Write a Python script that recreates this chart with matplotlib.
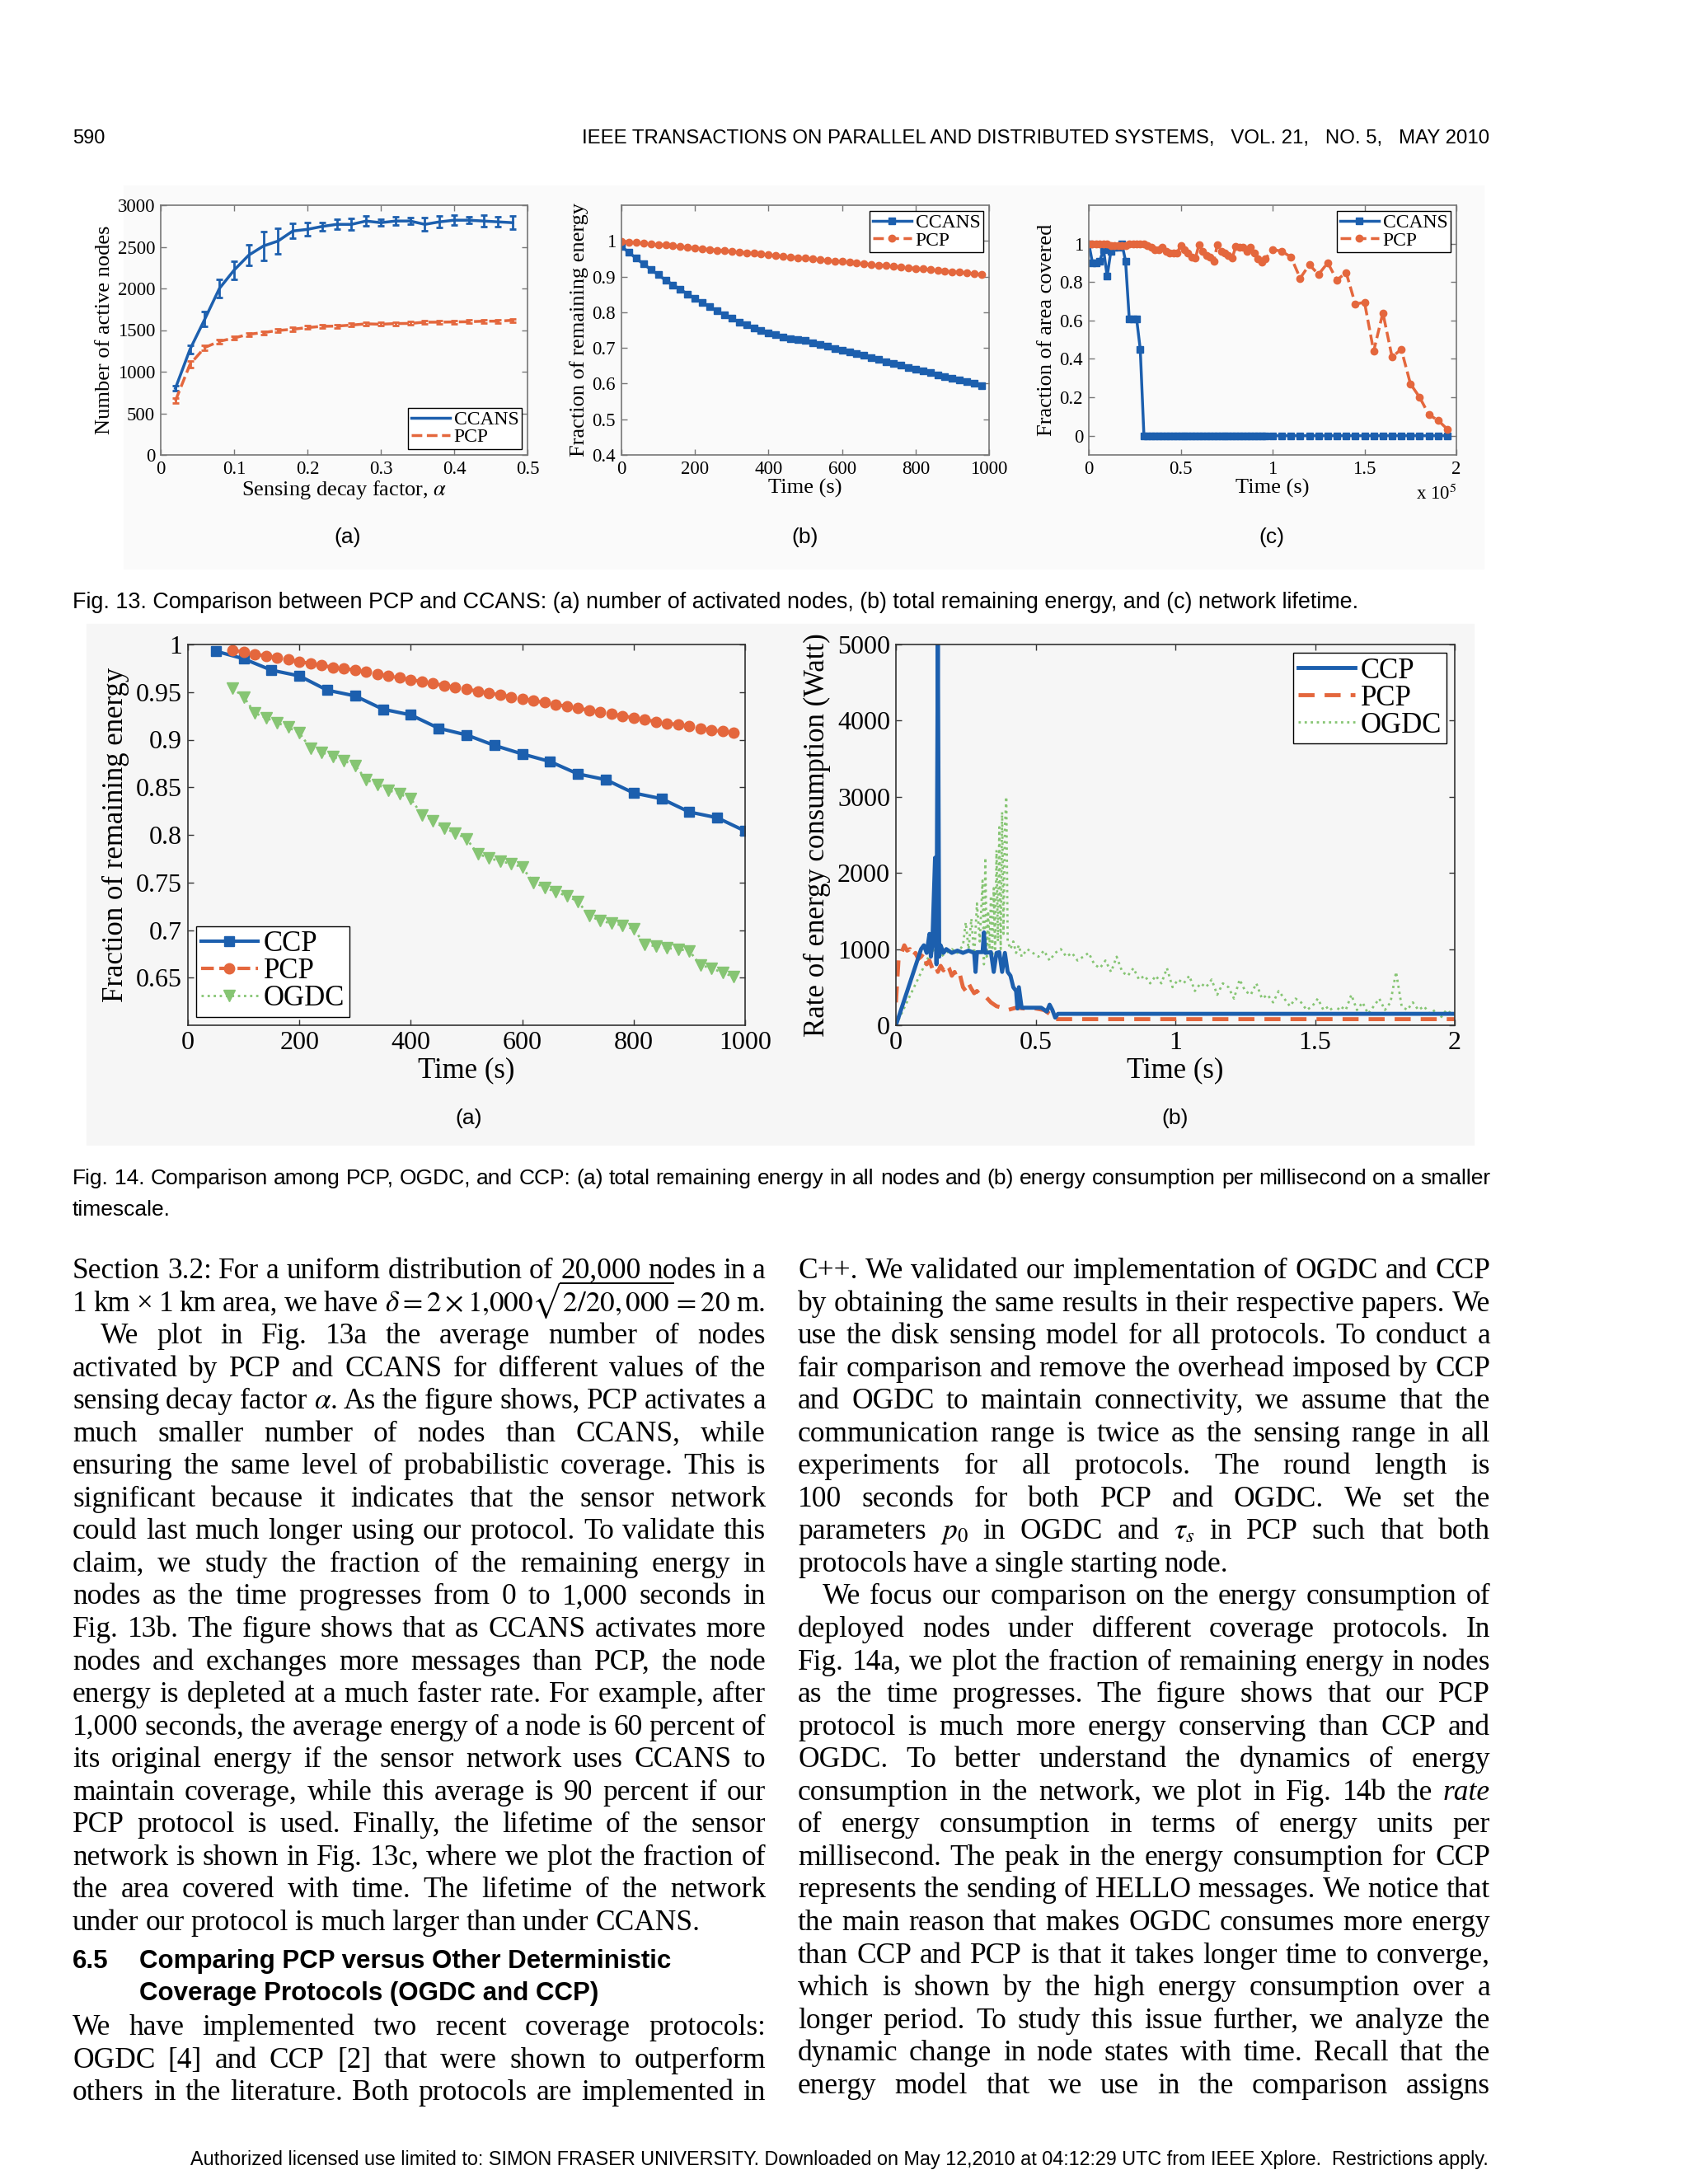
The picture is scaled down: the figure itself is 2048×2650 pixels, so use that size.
import re
import numpy as np
import matplotlib
matplotlib.use('Agg')
import matplotlib.pyplot as plt
from matplotlib.lines import Line2D
from matplotlib.patches import Rectangle
from matplotlib.ticker import FuncFormatter

# ---------------- data ----------------
# Fig. 13a : active nodes vs sensing decay factor
alpha = [0.02, 0.04, 0.06, 0.08, 0.10, 0.12, 0.14, 0.16, 0.18, 0.20, 0.22, 0.24,
         0.26, 0.28, 0.30, 0.32, 0.34, 0.36, 0.38, 0.40, 0.42, 0.44, 0.46, 0.48]
ccans_nodes = [800, 1270, 1630, 2000, 2220, 2400, 2510, 2570, 2690, 2710, 2745, 2770,
               2770, 2810, 2790, 2810, 2810, 2770, 2800, 2820, 2820, 2810, 2800, 2790]
ccans_err = [30, 50, 90, 110, 110, 120, 170, 150, 90, 80, 50, 60,
             70, 60, 40, 50, 40, 80, 70, 60, 40, 70, 60, 80]
pcp_nodes = [650, 1090, 1290, 1365, 1405, 1450, 1470, 1495, 1510, 1530, 1545, 1548,
             1560, 1575, 1570, 1578, 1580, 1595, 1595, 1598, 1600, 1607, 1607, 1618]
pcp_err = [30, 40, 30, 25, 20, 20, 20, 20, 20, 20, 20, 20,
           20, 20, 20, 20, 20, 20, 20, 20, 20, 20, 20, 20]

# Fig. 13b : remaining energy, one sample every 20 s
t13b = np.arange(0, 1000, 20)
ccans_energy = [0.984, 0.968, 0.951, 0.935, 0.920, 0.905, 0.890, 0.877, 0.864, 0.851,
                0.839, 0.827, 0.815, 0.804, 0.793, 0.783, 0.773, 0.764, 0.756, 0.749,
                0.743, 0.737, 0.731, 0.726, 0.724, 0.720, 0.714, 0.709, 0.704, 0.699,
                0.694, 0.689, 0.684, 0.679, 0.673, 0.667, 0.662, 0.656, 0.651, 0.646,
                0.640, 0.635, 0.630, 0.625, 0.620, 0.615, 0.611, 0.606, 0.601, 0.595]
pcp_energy = [0.999, 0.997, 0.995, 0.993, 0.991, 0.989, 0.988, 0.986, 0.984, 0.982,
              0.980, 0.978, 0.976, 0.974, 0.972, 0.970, 0.968, 0.967, 0.965, 0.963,
              0.961, 0.959, 0.957, 0.955, 0.953, 0.951, 0.949, 0.947, 0.945, 0.944,
              0.942, 0.940, 0.938, 0.936, 0.934, 0.932, 0.931, 0.929, 0.927, 0.925,
              0.923, 0.921, 0.919, 0.917, 0.915, 0.914, 0.912, 0.910, 0.908, 0.906]

# Fig. 13c : area covered, time in units of 1e5 s
t13c = list(np.round(np.arange(0, 0.97, 0.02), 2)) + list(np.round(np.arange(1.0, 1.96, 0.05), 2))
ccans_cov = [1.0, 0.90, 0.90, 0.91, 0.97, 0.83, 0.96, 0.98, 0.98, 1.0, 0.91, 0.61, 0.61, 0.61, 0.45,
             0, 0, 0, 0, 0, 0, 0, 0, 0, 0, 0, 0, 0, 0, 0, 0, 0,
             0, 0, 0, 0, 0, 0, 0, 0, 0, 0, 0, 0, 0, 0, 0, 0, 0,
             0, 0, 0, 0, 0, 0, 0, 0, 0, 0, 0, 0, 0, 0, 0, 0, 0, 0, 0, 0]
pcp_cov = [1.0, 1.0, 1.0, 1.0, 1.0, 1.0, 0.99, 0.99, 0.99, 0.99, 0.99, 1.0, 1.0, 1.0, 1.0,
           1.0, 0.99, 0.98, 0.97, 0.97, 0.98, 0.96, 0.95, 0.95, 0.95,
           0.99, 0.97, 0.95, 0.93, 0.925, 0.995, 0.96, 0.94, 0.93, 0.91,
           0.995, 0.96, 0.95, 0.94, 0.925, 0.985, 0.98, 0.98, 0.96, 0.98,
           0.95, 0.92, 0.905, 0.92,
           0.97, 0.96, 0.93, 0.82, 0.89, 0.84, 0.90, 0.81, 0.85, 0.685,
           0.695, 0.44, 0.64, 0.41, 0.45, 0.27, 0.20, 0.11, 0.08, 0.035]

# Fig. 14a : remaining energy of CCP / PCP / OGDC
t14_ccp = np.arange(50, 1001, 50)
ccp_energy = [0.993, 0.985, 0.973, 0.967, 0.952, 0.946, 0.932, 0.926, 0.912, 0.905,
              0.894, 0.885, 0.877, 0.864, 0.858, 0.844, 0.838, 0.824, 0.818, 0.804]
t14 = np.arange(80, 1000, 20)
pcp_energy14 = [0.994, 0.992, 0.990, 0.988, 0.986, 0.984, 0.982, 0.980, 0.978, 0.976,
                0.975, 0.973, 0.971, 0.969, 0.967, 0.965, 0.963, 0.961, 0.959, 0.957,
                0.955, 0.953, 0.951, 0.949, 0.947, 0.945, 0.943, 0.941, 0.939, 0.937,
                0.935, 0.933, 0.931, 0.929, 0.927, 0.925, 0.923, 0.921, 0.919, 0.917,
                0.916, 0.914, 0.912, 0.910, 0.909, 0.907]
ogdc_energy = [0.954, 0.945, 0.928, 0.923, 0.918, 0.913, 0.907, 0.891, 0.887, 0.882,
               0.878, 0.873, 0.858, 0.853, 0.847, 0.843, 0.838, 0.821, 0.815, 0.807,
               0.802, 0.796, 0.780, 0.776, 0.772, 0.770, 0.766, 0.750, 0.745, 0.740,
               0.736, 0.730, 0.715, 0.710, 0.707, 0.705, 0.701, 0.685, 0.683, 0.681,
               0.680, 0.678, 0.663, 0.660, 0.655, 0.651]

# Fig. 14b : rate of energy consumption
ccp_rate_t = [0, 0.09, 0.10, 0.11, 0.12, 0.125, 0.13, 0.14, 0.145, 0.15,
              0.155, 0.16, 0.17, 0.18, 0.20, 0.22, 0.24, 0.26, 0.28, 0.285,
              0.29, 0.31, 0.315, 0.32, 0.34, 0.35, 0.36, 0.37, 0.38, 0.39,
              0.40, 0.41, 0.42, 0.43, 0.435, 0.44, 0.45, 0.50, 0.52, 0.54,
              0.55, 0.56, 0.57, 0.58, 2.0]
ccp_rate = [0, 1000, 1050, 950, 1200, 900, 1050, 2200, 800, 5200,
            900, 1050, 950, 1000, 950, 980, 950, 980, 950, 700,
            960, 960, 1220, 950, 960, 700, 950, 960, 700, 950,
            700, 650, 500, 450, 220, 500, 230, 230, 230, 180,
            270, 200, 100, 150, 150]
pcp_rate_t = [0, 0.005, 0.01, 0.02, 0.03, 0.04, 0.05, 0.06, 0.07, 0.08,
              0.09, 0.10, 0.11, 0.12, 0.13, 0.14, 0.15, 0.16, 0.17, 0.18,
              0.19, 0.20, 0.21, 0.22, 0.23, 0.24, 0.25, 0.26, 0.27, 0.28,
              0.29, 0.30, 0.32, 0.34, 0.36, 0.38, 0.40, 0.43, 0.46, 0.50,
              0.53, 0.55, 0.56, 0.58, 2.0]
pcp_rate = [300, 600, 900, 950, 1050, 980, 1000, 900, 950, 870,
            900, 950, 800, 850, 750, 800, 700, 780, 720, 800,
            750, 650, 700, 600, 650, 500, 450, 550, 480, 420,
            450, 400, 380, 300, 250, 230, 200, 230, 220, 220,
            200, 150, 80, 80, 80]
ogdc_rate_t = [0, 0.13, 0.16, 0.18, 0.20, 0.22, 0.24, 0.25, 0.26, 0.27,
               0.28, 0.29, 0.30, 0.31, 0.315, 0.32, 0.325, 0.33, 0.335, 0.34,
               0.345, 0.35, 0.355, 0.36, 0.365, 0.37, 0.375, 0.38, 0.385, 0.39,
               0.395, 0.40, 0.41, 0.42, 0.43, 0.44, 0.45] + list(np.round(np.arange(0.47, 2.0, 0.02), 2))
ogdc_rate = [0, 1000, 900, 950, 1000, 950, 1050, 1350, 1000, 1400,
             900, 1600, 1100, 1900, 800, 2200, 900, 1500, 1000, 1700,
             900, 1800, 1000, 2300, 1100, 2600, 1000, 2800, 1200, 2600,
             3000, 1100, 1000, 1100, 950, 1050, 900,
             1000, 950, 900, 980, 850, 950, 1000, 900, 950, 850,
             900, 950, 800, 750, 850, 700, 900, 700, 650, 750,
             600, 650, 550, 650, 550, 750, 500, 600, 550, 650,
             450, 550, 500, 600, 400, 550, 500, 350, 600, 450,
             400, 550, 350, 400, 300, 450, 350, 250, 350, 300,
             200, 250, 350, 200, 250, 150, 250, 200, 400, 200,
             300, 150, 250, 350, 200, 300, 700, 250, 200, 300,
             200, 250, 150, 200, 100, 200, 150]

# ---------------- page text ----------------
header_left = "590"
header_right = "IEEE TRANSACTIONS ON PARALLEL AND DISTRIBUTED SYSTEMS,   VOL. 21,   NO. 5,   MAY 2010"
cap13 = ("Fig. 13. Comparison between PCP and CCANS: (a) number of activated nodes, "
         "(b) total remaining energy, and (c) network lifetime.")
cap14 = ["Fig. 14. Comparison among PCP, OGDC, and CCP: (a) total remaining energy in all nodes "
         "and (b) energy consumption per millisecond on a smaller", "timescale."]
footer = ("Authorized licensed use limited to: SIMON FRASER UNIVERSITY. Downloaded on May 12,2010 "
          "at 04:12:29 UTC from IEEE Xplore.  Restrictions apply.")

left_col = [
    "Section 3.2: For a uniform distribution of 20,000 nodes in a",
    "1 km \u00d7 1 km area, we have $\\delta = 2 \\times 1{,}000\\sqrt{2/20,000} = 20$ m.",
    "We plot in Fig. 13a the average number of nodes",
    "activated by PCP and CCANS for different values of the",
    "sensing decay factor $\\alpha$. As the figure shows, PCP activates a",
    "much smaller number of nodes than CCANS, while",
    "ensuring the same level of probabilistic coverage. This is",
    "significant because it indicates that the sensor network",
    "could last much longer using our protocol. To validate this",
    "claim, we study the fraction of the remaining energy in",
    "nodes as the time progresses from 0 to 1,000 seconds in",
    "Fig. 13b. The figure shows that as CCANS activates more",
    "nodes and exchanges more messages than PCP, the node",
    "energy is depleted at a much faster rate. For example, after",
    "1,000 seconds, the average energy of a node is 60 percent of",
    "its original energy if the sensor network uses CCANS to",
    "maintain coverage, while this average is 90 percent if our",
    "PCP protocol is used. Finally, the lifetime of the sensor",
    "network is shown in Fig. 13c, where we plot the fraction of",
    "the area covered with time. The lifetime of the network",
    "under our protocol is much larger than under CCANS.",
]
left_tail = [
    "We have implemented two recent coverage protocols:",
    "OGDC [4] and CCP [2] that were shown to outperform",
    "others in the literature. Both protocols are implemented in",
]
right_col = [
    "C++. We validated our implementation of OGDC and CCP",
    "by obtaining the same results in their respective papers. We",
    "use the disk sensing model for all protocols. To conduct a",
    "fair comparison and remove the overhead imposed by CCP",
    "and OGDC to maintain connectivity, we assume that the",
    "communication range is twice as the sensing range in all",
    "experiments for all protocols. The round length is",
    "100 seconds for both PCP and OGDC. We set the",
    "parameters $p_0$ in OGDC and $\\tau_s$ in PCP such that both",
    "protocols have a single starting node.",
    "We focus our comparison on the energy consumption of",
    "deployed nodes under different coverage protocols. In",
    "Fig. 14a, we plot the fraction of remaining energy in nodes",
    "as the time progresses. The figure shows that our PCP",
    "protocol is much more energy conserving than CCP and",
    "OGDC. To better understand the dynamics of energy",
    "consumption in the network, we plot in Fig. 14b the /rate/",
    "of energy consumption in terms of energy units per",
    "millisecond. The peak in the energy consumption for CCP",
    "represents the sending of HELLO messages. We notice that",
    "the main reason that makes OGDC consumes more energy",
    "than CCP and PCP is that it takes longer time to converge,",
    "which is shown by the high energy consumption over a",
    "longer period. To study this issue further, we analyze the",
    "dynamic change in node states with time. Recall that the",
    "energy model that we use in the comparison assigns",
]

# ---------------- page setup ----------------
W, H = 2048, 2650
SERIF = ['Liberation Serif', 'DejaVu Serif']
SANS = ['Liberation Sans', 'DejaVu Sans']
plt.rcParams['font.family'] = SERIF
plt.rcParams['mathtext.fontset'] = 'stix'

BLUE = '#1c5fae'
ORANGE = '#e4673d'
GREEN = '#86c573'

fig = plt.figure(figsize=(W / 100, H / 100), dpi=100, facecolor='white')
renderer = fig.canvas.get_renderer()


def fx(px):
    return px / W


def fy(py):
    return 1 - py / H


def axes_px(x0, y0, x1, y1):
    return fig.add_axes([fx(x0), fy(y1), (x1 - x0) / W, (y1 - y0) / H])


def width_of(t):
    return t.get_window_extent(renderer).width


def matlab_style(ax, fs, edge):
    ax.set_facecolor('none')
    ax.tick_params(direction='in', top=True, right=True, labelsize=fs,
                   length=5, width=1, color=edge, pad=5)
    for sp in ax.spines.values():
        sp.set_color(edge)
        sp.set_linewidth(1.2)
    fmt = FuncFormatter(lambda v, p: '%g' % round(v, 4))
    ax.xaxis.set_major_formatter(fmt)
    ax.yaxis.set_major_formatter(fmt)


def box_legend(ax, handles, labels, loc, fs):
    leg = ax.legend(handles, labels, loc=loc, fontsize=fs, fancybox=False,
                    edgecolor='black', framealpha=1, borderpad=0.15,
                    labelspacing=0.0, handlelength=2.0, handletextpad=0.2,
                    borderaxespad=0.3)
    leg.get_frame().set_linewidth(1.0)


def text_line(x0, x1, y, line, size, family=SERIF, justify=True, weight='normal'):
    tokens = re.findall(r'\$[^$]*\$\S*|\S+', line)
    items = []
    for tok in tokens:
        style = 'normal'
        if tok.startswith('/') and tok.endswith('/'):
            tok, style = tok[1:-1], 'italic'
        items.append(fig.text(0, fy(y), tok, fontsize=size, family=family,
                              style=style, weight=weight, va='baseline'))
    ws = [width_of(t) for t in items]
    space = size * 100 / 72 * 0.22
    natural = sum(ws) + space * (len(items) - 1)
    if natural > x1 - x0:
        # squeeze the whole line a little when it would overflow the column
        k = (x1 - x0) / natural
        for t in items:
            t.set_fontsize(size * k)
        ws = [width_of(t) for t in items]
        space *= k
    if justify and len(items) > 1:
        gap = (x1 - x0 - sum(ws)) / (len(items) - 1)
    else:
        gap = space
    x = x0
    for t, w in zip(items, ws):
        t.set_x(fx(x))
        x += w + gap


def fit_text(x0, x1, y, s, family):
    t = fig.text(fx(x0), fy(y), s, fontsize=10, family=family, va='baseline')
    t.set_fontsize(10 * (x1 - x0) / width_of(t))
    return t


# light scan background behind the figures
fig.patches.append(Rectangle((fx(150), fy(690)), (1800 - 150) / W, (690 - 225) / H,
                             transform=fig.transFigure, color='#fafafa', zorder=-5))
fig.patches.append(Rectangle((fx(105), fy(1389)), (1788 - 105) / W, (1389 - 757) / H,
                             transform=fig.transFigure, color='#f6f6f6', zorder=-5))

# ---------------- Fig. 13a ----------------
F13_TICK, F13_LAB = 16.5, 19
ax = axes_px(195, 249, 640, 552)
ax.errorbar(alpha, ccans_nodes, yerr=ccans_err, color=BLUE, lw=2.5,
            elinewidth=2, capsize=3, capthick=2)
ax.errorbar(alpha, pcp_nodes, yerr=pcp_err, color=ORANGE, lw=2.5, ls='--',
            elinewidth=2, capsize=3, capthick=2)
ax.set_xlim(0, 0.5)
ax.set_ylim(0, 3000)
ax.set_xticks([0, 0.1, 0.2, 0.3, 0.4, 0.5])
ax.set_yticks(range(0, 3001, 500))
ax.set_xlabel('Sensing decay factor, $\\alpha$', fontsize=F13_LAB, labelpad=1)
ax.set_ylabel('Number of active nodes', fontsize=F13_LAB, labelpad=3)
matlab_style(ax, F13_TICK, '#777777')
box_legend(ax, [Line2D([], [], color=BLUE, lw=2.5), Line2D([], [], color=ORANGE, lw=2.5, ls='--')],
           ['CCANS', 'PCP'], 'lower right', 17)

# ---------------- Fig. 13b ----------------
ax = axes_px(754, 249, 1200, 552)
ax.plot(t13b, ccans_energy, color=BLUE, lw=2.5, marker='s', ms=6)
ax.plot(t13b, pcp_energy, color=ORANGE, lw=2.5, ls='--', marker='o', ms=6)
ax.set_xlim(0, 1000)
ax.set_ylim(0.4, 1.1)
ax.set_xticks(range(0, 1001, 200))
ax.set_yticks([0.4, 0.5, 0.6, 0.7, 0.8, 0.9, 1.0])
ax.set_xlabel('Time (s)', fontsize=F13_LAB, labelpad=1)
ax.set_ylabel('Fraction of remaining energy', fontsize=F13_LAB, labelpad=3)
matlab_style(ax, F13_TICK, '#777777')
box_legend(ax, [Line2D([], [], color=BLUE, lw=2.5, marker='s', ms=6),
                Line2D([], [], color=ORANGE, lw=2.5, ls='--', marker='o', ms=6)],
           ['CCANS', 'PCP'], 'upper right', 17)

# ---------------- Fig. 13c ----------------
ax = axes_px(1321, 249, 1767, 552)
ax.plot(t13c, ccans_cov, color=BLUE, lw=2.5, marker='s', ms=6)
ax.plot(t13c, pcp_cov, color=ORANGE, lw=2.5, ls='--', marker='o', ms=6)
ax.set_xlim(0, 2)
ax.set_ylim(-0.1, 1.2)
ax.set_xticks([0, 0.5, 1, 1.5, 2])
ax.set_yticks([0, 0.2, 0.4, 0.6, 0.8, 1.0])
ax.set_xlabel('Time (s)', fontsize=F13_LAB, labelpad=1)
ax.set_ylabel('Fraction of area covered', fontsize=F13_LAB, labelpad=3)
matlab_style(ax, F13_TICK, '#777777')
ax.text(1.0, -0.115, 'x 10$^5$', transform=ax.transAxes, ha='right', va='top', fontsize=F13_TICK)
box_legend(ax, [Line2D([], [], color=BLUE, lw=2.5, marker='s', ms=6),
                Line2D([], [], color=ORANGE, lw=2.5, ls='--', marker='o', ms=6)],
           ['CCANS', 'PCP'], 'upper right', 17)

# sub labels and caption of Fig. 13
for x, s in [(422, '(a)'), (977, '(b)'), (1543, '(c)')]:
    fig.text(fx(x), fy(659), s, fontsize=19, family=SANS, ha='center', va='baseline')
fit_text(88, 1651, 738, cap13, SANS)

# ---------------- Fig. 14a ----------------
ax = axes_px(228, 782, 904, 1244)
ax.plot(t14_ccp, ccp_energy, color=BLUE, lw=3, marker='s', ms=9)
ax.plot(t14, pcp_energy14, color=ORANGE, lw=3, ls='--', marker='o', ms=9)
ax.plot(t14, ogdc_energy, color=GREEN, lw=2, ls=':', marker='v', ms=10)
ax.set_xlim(0, 1000)
ax.set_ylim(0.6, 1.0)
ax.set_xticks(range(0, 1001, 200))
ax.set_yticks([0.65, 0.7, 0.75, 0.8, 0.85, 0.9, 0.95, 1.0])
ax.set_xlabel('Time (s)', fontsize=25, labelpad=2)
ax.set_ylabel('Fraction of remaining energy', fontsize=25, labelpad=6)
matlab_style(ax, 23, '#333333')
box_legend(ax, [Line2D([], [], color=BLUE, lw=3, marker='s', ms=9),
                Line2D([], [], color=ORANGE, lw=3, ls='--', marker='o', ms=9),
                Line2D([], [], color=GREEN, lw=2, ls=':', marker='v', ms=10)],
           ['CCP', 'PCP', 'OGDC'], 'lower left', 25)

# ---------------- Fig. 14b ----------------
ax = axes_px(1087, 782, 1765, 1244)
ax.plot(ogdc_rate_t, ogdc_rate, color=GREEN, lw=2, ls=':')
ax.plot(pcp_rate_t, pcp_rate, color=ORANGE, lw=3.5, ls=(0, (4, 2.5)))
ax.plot(ccp_rate_t, ccp_rate, color=BLUE, lw=3.5)
ax.set_xlim(0, 2)
ax.set_ylim(0, 5000)
ax.set_xticks([0, 0.5, 1, 1.5, 2])
ax.set_yticks(range(0, 5001, 1000))
ax.set_xlabel('Time (s)', fontsize=25, labelpad=2)
ax.set_ylabel('Rate of energy consumption (Watt)', fontsize=25, labelpad=6)
matlab_style(ax, 23, '#333333')
box_legend(ax, [Line2D([], [], color=BLUE, lw=3.5),
                Line2D([], [], color=ORANGE, lw=3.5, ls=(0, (4, 2.5))),
                Line2D([], [], color=GREEN, lw=2, ls=':')],
           ['CCP', 'PCP', 'OGDC'], 'upper right', 25)

for x, s in [(569, '(a)'), (1426, '(b)')]:
    fig.text(fx(x), fy(1364), s, fontsize=19, family=SANS, ha='center', va='baseline')
text_line(88, 1808, 1437, cap14[0], 19, family=SANS)
text_line(88, 1808, 1475, cap14[1], 19, family=SANS, justify=False)

# ---------------- running head and footer ----------------
fig.text(fx(88), fy(174), header_left, fontsize=17, family=SANS, va='baseline')
fit_text(706, 1805, 174, header_right, SANS)
fit_text(231, 1811, 2627, footer, SANS)

# ---------------- body text ----------------
BODY = 25.5
pitch = 39.55
y0 = 1551
for i, line in enumerate(left_col):
    indent = 34 if i == 2 else 0
    text_line(88 + indent, 929, y0 + i * pitch, line, BODY, justify=(i != 20))
fig.text(fx(88), fy(2388), '6.5', fontsize=22.5, family=SANS, weight='bold', va='baseline')
fig.text(fx(169), fy(2388), 'Comparing PCP versus Other Deterministic', fontsize=22.5,
         family=SANS, weight='bold', va='baseline')
fig.text(fx(169), fy(2427), 'Coverage Protocols (OGDC and CCP)', fontsize=22.5,
         family=SANS, weight='bold', va='baseline')
for i, line in enumerate(left_tail):
    text_line(88, 929, 2469 + i * pitch, line, BODY)
for i, line in enumerate(right_col):
    indent = 30 if i == 10 else 0
    text_line(968 + indent, 1808, y0 + i * pitch, line, BODY, justify=(i != 9))

fig.savefig('out.png', dpi=100, facecolor='white')
